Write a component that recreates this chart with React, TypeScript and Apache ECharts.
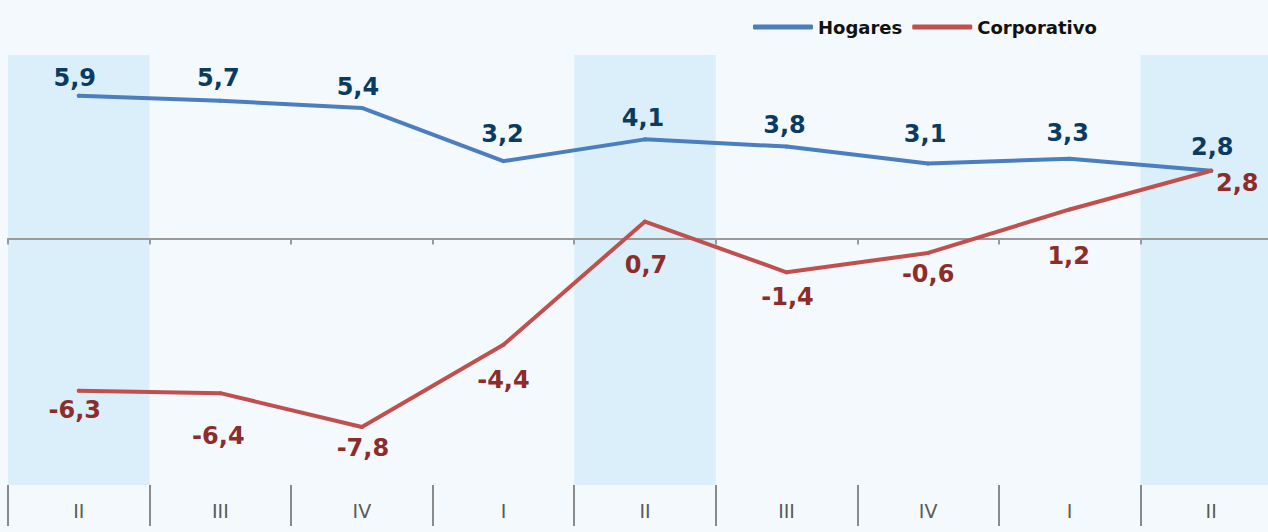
import React, { useEffect, useRef } from "react";
import * as echarts from "echarts";

const categories = ["II", "III", "IV", "I", "II", "III", "IV", "I", "II"];
const hogares = [5.9, 5.7, 5.4, 3.2, 4.1, 3.8, 3.1, 3.3, 2.8];
const corporativo = [-6.3, -6.4, -7.8, -4.4, 0.7, -1.4, -0.6, 1.2, 2.8];

// label offsets (styling) relative to each point
const hogaresLabelOffset = [[-4, -18], [-2, -23], [-4, -21], [-1, -27], [-2, -21], [-2, -22], [-3, -30], [-2, -26], [1, -24]];
const corpLabelOffset = [[-4, 19], [-2, 43], [1, 21], [0, 35], [1, 43], [1, 25], [0, 21], [-1, 47], [26, 12]];

export default function App() {
  const ref = useRef<HTMLDivElement>(null);
  useEffect(() => {
    if (!ref.current) return;
    const chart = echarts.init(ref.current, undefined, { renderer: "svg" });
    const labelFont = {
      fontFamily: "DejaVu Sans",
      fontWeight: "bold" as const,
      fontSize: 24,
    };
    chart.setOption({
      animation: false,
      backgroundColor: "#f4f9fe",
      textStyle: { fontFamily: "DejaVu Sans" },
      legend: {
        left: 748,
        top: 13,
        itemWidth: 60,
        itemHeight: 5,
        itemGap: 10,
        icon: "roundRect",
        textStyle: { fontFamily: "DejaVu Sans", fontSize: 18, color: "#111111", fontWeight: "bold" },
        data: ["Hogares", "Corporativo"],
      },
      grid: { left: 8, right: 0, top: 55, bottom: 47, outerBoundsMode: "none" },
      xAxis: [
        {
          type: "category",
          data: categories,
          position: "bottom",
          axisLine: { show: true, onZero: true, lineStyle: { color: "#9a9a9a", width: 2 } },
          axisTick: { show: true, length: 6, lineStyle: { color: "#9a9a9a", width: 2 } },
          axisLabel: { show: false },
          splitLine: { show: false },
          splitArea: {
            show: true,
            areaStyle: { color: ["#dbeffa", "rgba(0,0,0,0)", "rgba(0,0,0,0)", "rgba(0,0,0,0)"] },
          },
        },
        {
          type: "category",
          data: categories,
          position: "bottom",
          axisLine: { show: false, onZero: false },
          axisTick: { show: true, length: 41, lineStyle: { color: "#8a8a8a", width: 2 } },
          axisLabel: {
            show: true,
            margin: 16,
            fontFamily: "DejaVu Sans",
            fontSize: 19,
            color: "#5a5a5a",
          },
          splitLine: { show: false },
        },
      ],
      yAxis: {
        type: "value",
        min: -10.2,
        max: 7.59,
        show: false,
        splitLine: { show: false },
      },
      series: [
        {
          name: "Hogares",
          type: "line",
          xAxisIndex: 0,
          data: hogares.map((v, i) => ({
            value: v,
            label: { offset: hogaresLabelOffset[i] },
          })),
          symbol: "circle",
          symbolSize: 4,
          lineStyle: { color: "#4a7ebf", width: 4, cap: "round", join: "round" },
          itemStyle: { color: "#4a7ebf" },
          label: {
            show: true,
            position: "inside",
            color: "#0b3b60",
            ...labelFont,
            formatter: (p: any) => String(p.value).replace(".", ","),
          },
        },
        {
          name: "Corporativo",
          type: "line",
          xAxisIndex: 0,
          data: corporativo.map((v, i) => ({
            value: v,
            label: { offset: corpLabelOffset[i] },
          })),
          symbol: "circle",
          symbolSize: 4,
          lineStyle: { color: "#c0504d", width: 4, cap: "round", join: "round" },
          itemStyle: { color: "#c0504d" },
          label: {
            show: true,
            position: "inside",
            color: "#8c2d2a",
            ...labelFont,
            formatter: (p: any) => String(p.value).replace(".", ","),
          },
        },
      ],
    });
    return () => chart.dispose();
  }, []);
  return (
    <div
      style={{ position: "absolute", left: 0, top: 0, width: 1268, height: 532, overflow: "hidden", background: "#f4f9fe" }}
    >
      <div ref={ref} style={{ width: 1282, height: 532 }} />
    </div>
  );
}
